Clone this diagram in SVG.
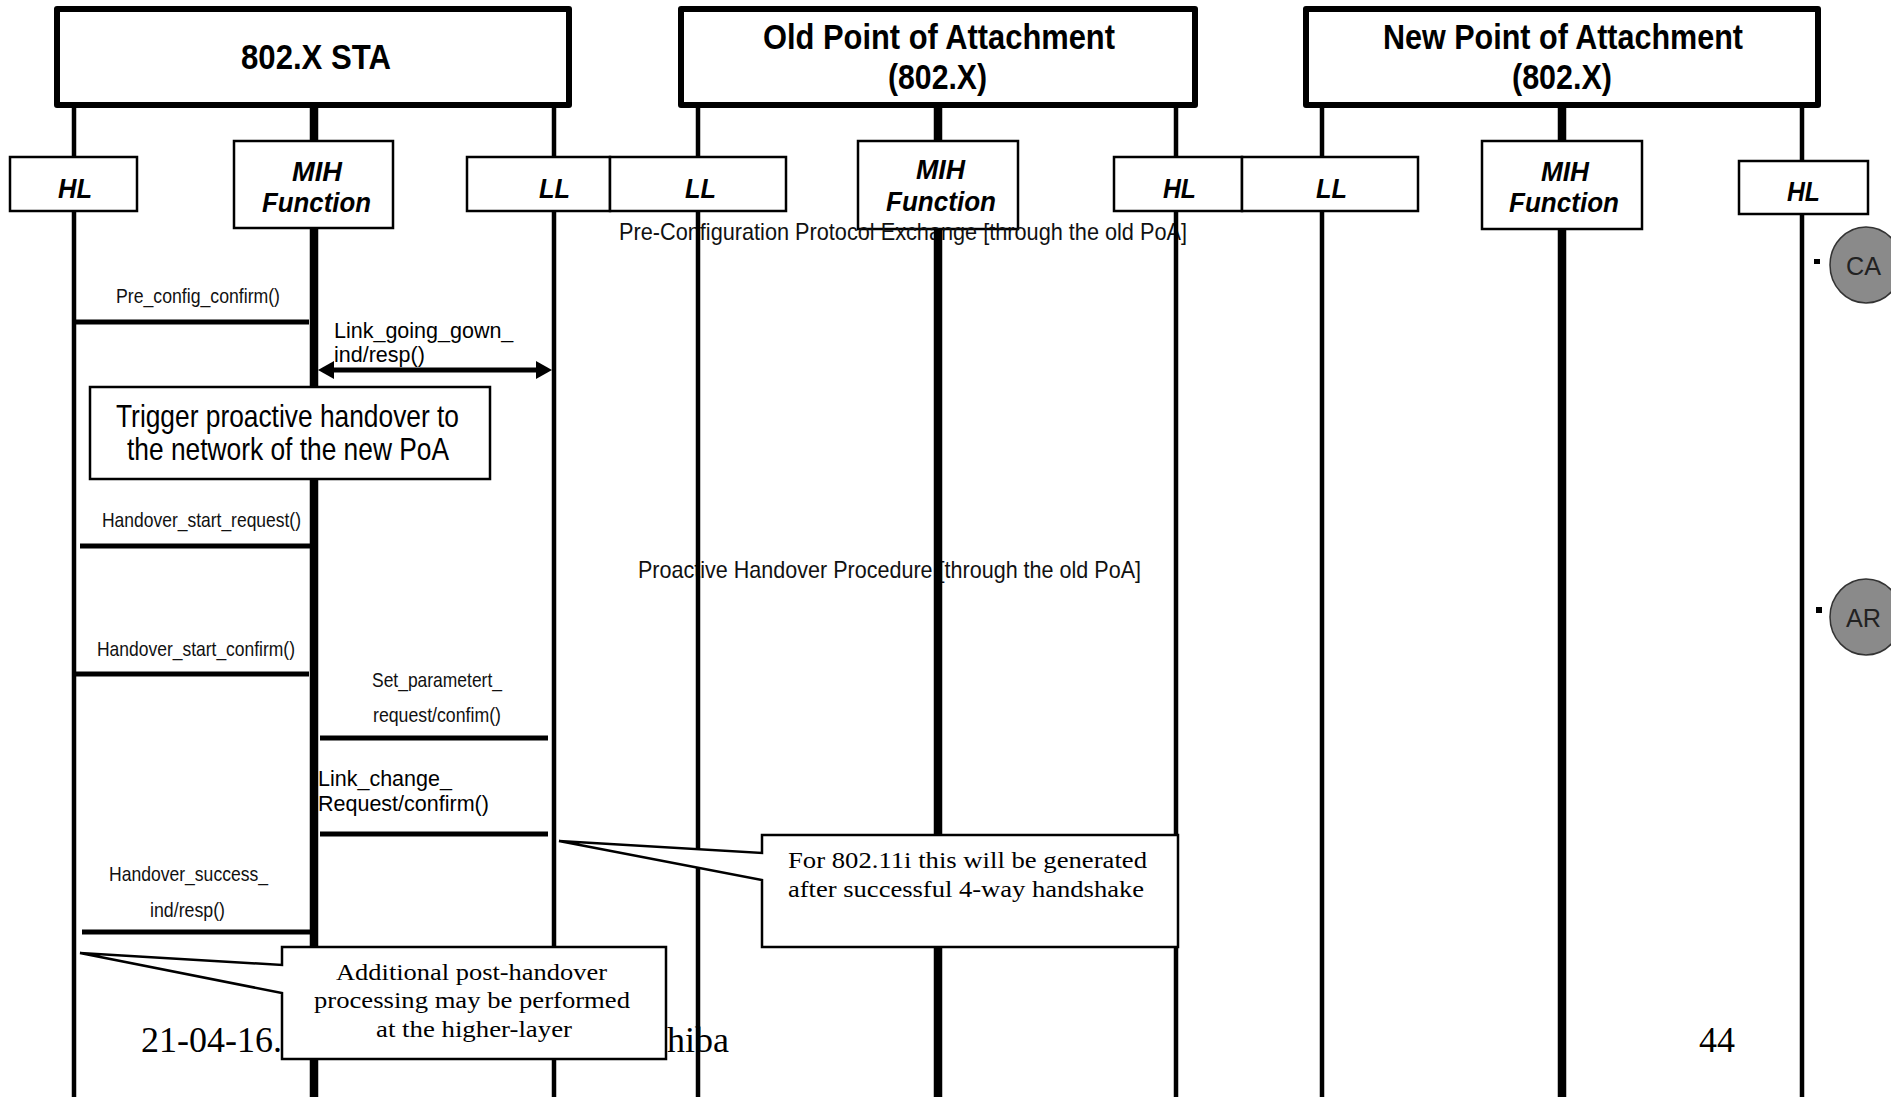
<svg xmlns="http://www.w3.org/2000/svg" width="1891" height="1097" viewBox="0 0 1891 1097">
<style>
.bg{fill:#fff}
.hdr{fill:#fff;stroke:#000;stroke-width:6;stroke-linejoin:round}
.box{fill:#fff;stroke:#000;stroke-width:2.5}
.life{stroke:#000;stroke-width:4.5;fill:none}
.lifeT{stroke:#000;stroke-width:8.5;fill:none}
.msg{stroke:#000;stroke-width:5;fill:none}
.call{fill:#fff;stroke:#000;stroke-width:2.5;stroke-linejoin:miter}
.n{font-family:"Liberation Sans Narrow","Arial Narrow","Liberation Sans",sans-serif;fill:#000}
.hd{font-size:35px;font-weight:bold}
.it{font-size:27px;font-style:italic;font-weight:bold}
.lb{font-size:21px;fill:#111}
.band{font-size:24px;fill:#111}
.a{font-family:"Liberation Sans",Arial,sans-serif;font-size:21.5px;fill:#000}
.t{font-family:"Liberation Serif","Times New Roman",serif;font-size:24px;fill:#000}
.ft{font-family:"Liberation Serif","Times New Roman",serif;font-size:36px;fill:#000}
.circ{fill:#8a8a8a;stroke:#333;stroke-width:1.5}
.ct{font-family:"Liberation Sans Narrow","Arial Narrow","Liberation Sans",sans-serif;font-size:26px;fill:#222}
</style>
<defs>
<marker id="ah" viewBox="0 0 16 18" refX="10" refY="9" markerWidth="16" markerHeight="18" markerUnits="userSpaceOnUse" orient="auto-start-reverse">
<path d="M0,0 L16,9 L0,18 Z" fill="#000"/>
</marker>
</defs>
<rect class="bg" x="0" y="0" width="1891" height="1097"/>

<!-- header entities -->
<g id="sta">
<rect class="hdr" x="57" y="9" width="512" height="96"/>
<text class="n hd" x="241" y="69" textLength="150" lengthAdjust="spacingAndGlyphs">802.X STA</text>
</g>
<g id="old-poa">
<rect class="hdr" x="681" y="9" width="514" height="96"/>
<text class="n hd" x="763" y="49" textLength="352" lengthAdjust="spacingAndGlyphs">Old Point of Attachment</text>
<text class="n hd" x="888" y="89" textLength="99" lengthAdjust="spacingAndGlyphs">(802.X)</text>
</g>
<g id="new-poa">
<rect class="hdr" x="1306" y="9" width="512" height="96"/>
<text class="n hd" x="1383" y="49" textLength="360" lengthAdjust="spacingAndGlyphs">New Point of Attachment</text>
<text class="n hd" x="1512" y="89" textLength="100" lengthAdjust="spacingAndGlyphs">(802.X)</text>
</g>

<!-- sub-entity boxes -->
<g id="sta-hl">
<rect class="box" x="10" y="157" width="127" height="54"/>
<text class="n it" x="58" y="198" textLength="34" lengthAdjust="spacingAndGlyphs">HL</text>
</g>
<g id="sta-mih">
<rect class="box" x="234" y="141" width="159" height="87"/>
<text class="n it" x="292" y="181" textLength="50" lengthAdjust="spacingAndGlyphs">MIH</text>
<text class="n it" x="262" y="212" textLength="109" lengthAdjust="spacingAndGlyphs">Function</text>
</g>
<g id="sta-ll">
<rect class="box" x="467" y="157" width="143" height="54"/>
<text class="n it" x="539" y="198" textLength="31" lengthAdjust="spacingAndGlyphs">LL</text>
</g>
<g id="old-ll">
<rect class="box" x="610" y="157" width="176" height="54"/>
<text class="n it" x="685" y="198" textLength="31" lengthAdjust="spacingAndGlyphs">LL</text>
</g>
<g id="old-mih">
<rect class="box" x="858" y="141" width="160" height="88"/>
<text class="n it" x="916" y="179" textLength="49" lengthAdjust="spacingAndGlyphs">MIH</text>
<text class="n it" x="886" y="211" textLength="110" lengthAdjust="spacingAndGlyphs">Function</text>
</g>
<g id="old-hl">
<rect class="box" x="1114" y="157" width="128" height="54"/>
<text class="n it" x="1163" y="198" textLength="33" lengthAdjust="spacingAndGlyphs">HL</text>
</g>
<g id="new-ll">
<rect class="box" x="1242" y="157" width="176" height="54"/>
<text class="n it" x="1316" y="198" textLength="31" lengthAdjust="spacingAndGlyphs">LL</text>
</g>
<g id="new-mih">
<rect class="box" x="1482" y="141" width="160" height="88"/>
<text class="n it" x="1541" y="181" textLength="48" lengthAdjust="spacingAndGlyphs">MIH</text>
<text class="n it" x="1509" y="212" textLength="110" lengthAdjust="spacingAndGlyphs">Function</text>
</g>
<g id="new-hl">
<rect class="box" x="1739" y="161" width="129" height="53"/>
<text class="n it" x="1787" y="201" textLength="33" lengthAdjust="spacingAndGlyphs">HL</text>
</g>

<!-- phase labels and footer (under lifelines) -->
<g id="phase-labels">
<text class="n band" x="619" y="240" textLength="568" lengthAdjust="spacingAndGlyphs">Pre-Configuration Protocol Exchange [through the old PoA]</text>
<text class="n band" x="638" y="578" textLength="503" lengthAdjust="spacingAndGlyphs">Proactive Handover Procedure [through the old PoA]</text>
</g>
<g id="footer">
<text class="ft" x="141" y="1052">21-04-16.</text>
<text class="ft" x="667" y="1052">hiba</text>
<text class="ft" x="1699" y="1052">44</text>
</g>

<!-- lifelines -->
<g id="lifelines">
<path class="life" d="M74,108 V157 M74,211 V1097"/>
<path class="lifeT" d="M314,108 V141 M314,228 V1097"/>
<path class="life" d="M554,108 V157 M554,211 V1097"/>
<path class="life" d="M698,108 V157 M698,211 V1097"/>
<path class="lifeT" d="M938,108 V141 M938,229 V1097"/>
<path class="life" d="M1176,108 V157 M1176,211 V1097"/>
<path class="life" d="M1322,108 V157 M1322,211 V1097"/>
<path class="lifeT" d="M1562,108 V141 M1562,229 V1097"/>
<path class="life" d="M1802,108 V161 M1802,214 V1097"/>
</g>

<!-- connectors -->
<g id="connectors">
<line class="msg" x1="75" y1="322" x2="309" y2="322"/>
<line class="msg" x1="324" y1="370" x2="546" y2="370" marker-start="url(#ah)" marker-end="url(#ah)"/>
<line class="msg" x1="80" y1="546" x2="310" y2="546"/>
<line class="msg" x1="75" y1="674" x2="309" y2="674"/>
<line class="msg" x1="320" y1="738" x2="548" y2="738"/>
<line class="msg" x1="320" y1="834" x2="548" y2="834"/>
<line class="msg" x1="82" y1="932" x2="310" y2="932"/>
</g>

<!-- message labels -->
<g id="labels">
<text class="n lb" x="116" y="303" textLength="164" lengthAdjust="spacingAndGlyphs">Pre_config_confirm()</text>
<text class="a" x="334" y="338">Link_going_gown_</text>
<text class="a" x="334" y="362">ind/resp()</text>
<text class="n lb" x="102" y="527" textLength="199" lengthAdjust="spacingAndGlyphs">Handover_start_request()</text>
<text class="n lb" x="97" y="656" textLength="198" lengthAdjust="spacingAndGlyphs">Handover_start_confirm()</text>
<text class="n lb" x="372" y="687" textLength="130" lengthAdjust="spacingAndGlyphs">Set_parametert_</text>
<text class="n lb" x="373" y="722" textLength="128" lengthAdjust="spacingAndGlyphs">request/confim()</text>
<text class="a" x="318" y="786">Link_change_</text>
<text class="a" x="318" y="811">Request/confirm()</text>
<text class="n lb" x="109" y="881" textLength="159" lengthAdjust="spacingAndGlyphs">Handover_success_</text>
<text class="n lb" x="150" y="917" textLength="75" lengthAdjust="spacingAndGlyphs">ind/resp()</text>
</g>

<!-- trigger box -->
<g id="trigger">
<rect class="box" x="90" y="387" width="400" height="92"/>
<text class="n" style="font-size:32px" x="116" y="427" textLength="343" lengthAdjust="spacingAndGlyphs">Trigger proactive handover to</text>
<text class="n" style="font-size:32px" x="127" y="460" textLength="322" lengthAdjust="spacingAndGlyphs">the network of the new PoA</text>
</g>

<!-- callouts -->
<g id="callout-80211i">
<path class="call" d="M762,835 H1178 V947 H762 V880 L559,841 L762,853 Z"/>
<text class="t" x="788" y="868" textLength="359" lengthAdjust="spacingAndGlyphs">For 802.11i this will be generated</text>
<text class="t" x="788" y="897" textLength="356" lengthAdjust="spacingAndGlyphs">after successful 4-way handshake</text>
</g>
<g id="callout-post">
<path class="call" d="M282,947 H666 V1059 H282 V993 L80,953 L282,965 Z"/>
<text class="t" x="336" y="980" textLength="271" lengthAdjust="spacingAndGlyphs">Additional post-handover</text>
<text class="t" x="314" y="1008" textLength="316" lengthAdjust="spacingAndGlyphs">processing may be performed</text>
<text class="t" x="376" y="1037" textLength="196" lengthAdjust="spacingAndGlyphs">at the higher-layer</text>
</g>

<!-- side markers -->
<g id="ca">
<rect x="1814" y="259" width="6" height="5" fill="#000"/>
<ellipse class="circ" cx="1866" cy="265" rx="36" ry="38"/>
<text class="ct" x="1846" y="275" textLength="35" lengthAdjust="spacingAndGlyphs">CA</text>
</g>
<g id="ar">
<rect x="1816" y="607" width="6" height="6" fill="#000"/>
<ellipse class="circ" cx="1866" cy="617" rx="36" ry="38"/>
<text class="ct" x="1846" y="627" textLength="35" lengthAdjust="spacingAndGlyphs">AR</text>
</g>
</svg>
